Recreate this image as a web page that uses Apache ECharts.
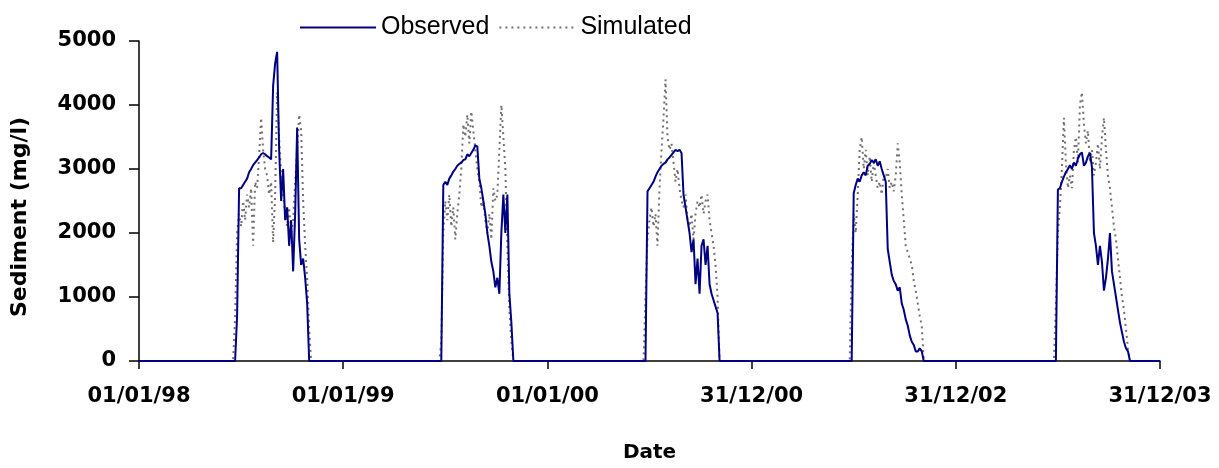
<!DOCTYPE html>
<html>
<head>
<meta charset="utf-8">
<script src="https://cdn.jsdelivr.net/npm/echarts@6/dist/echarts.min.js"></script>
<style>
html,body{margin:0;padding:0;background:#fff;}
#chart{width:1219px;height:468px;}
</style>
</head>
<body>
<div id="chart"></div>
<script>
// Tick labels on the date axis (each tick interval = 102 samples)
const tickLabels = ['01/01/98', '01/01/99', '01/01/00', '31/12/00', '31/12/02', '31/12/03'];
const pointsPerTick = 102;
const yTicks = [0, 1000, 2000, 3000, 4000, 5000];

// Observed sediment (mg/l), one value per sample
const observed = [
// 01/01/98 - 01/01/99
0,0,0,0,0,0,0,0,0,0,
0,0,0,0,0,0,0,0,0,0,
0,0,0,0,0,0,0,0,0,0,
0,0,0,0,0,0,0,0,0,0,
0,0,0,0,0,0,0,0,0,
700,2700,2700,2750,2800,2850,2950,3000,3060,3100,
3140,3180,3230,3250,3230,3200,3180,3150,4300,4650,
4830,3300,2500,3000,2200,2400,1800,2200,1400,2300,
3650,1900,1500,1600,1300,900,
0,0,0,0,0,0,0,0,0,0,
0,0,0,0,0,0,0,
// 01/01/99 - 01/01/00
0,0,0,0,0,0,0,0,0,0,
0,0,0,0,0,0,0,0,0,0,
0,0,0,0,0,0,0,0,0,0,
0,0,0,0,0,0,0,0,0,0,
0,0,0,0,0,0,0,0,0,0,
2750,2800,2750,2850,2900,2960,3000,3050,3080,3100,
3140,3150,3230,3200,3250,3300,3370,3350,2850,2700,
2500,2300,2000,1800,1550,1400,1150,1300,1050,2000,
2600,2000,2600,1050,600,
0,0,0,0,0,0,0,0,0,0,
0,0,0,0,0,0,0,
// 01/01/00 - 31/12/00
0,0,0,0,0,0,0,0,0,0,
0,0,0,0,0,0,0,0,0,0,
0,0,0,0,0,0,0,0,0,0,
0,0,0,0,0,0,0,0,0,0,
0,0,0,0,0,0,0,0,0,0,
2650,2700,2750,2800,2880,2950,3000,3050,3080,3100,
3150,3180,3220,3260,3300,3280,3300,3250,2600,2400,
2200,2000,1700,1900,1200,1600,1050,1800,1900,1500,
1800,1200,1050,950,850,750,
0,0,0,0,0,0,0,0,0,0,
0,0,0,0,0,0,
// 31/12/00 - 31/12/02
0,0,0,0,0,0,0,0,0,0,
0,0,0,0,0,0,0,0,0,0,
0,0,0,0,0,0,0,0,0,0,
0,0,0,0,0,0,0,0,0,0,
0,0,0,0,0,0,0,0,0,0,
0,
2620,2750,2850,2800,2900,2950,2900,3050,3080,3140,
3100,3150,3050,3120,3000,2900,2800,1750,1550,1350,
1250,1200,1100,1150,900,800,650,550,400,300,
250,150,150,200,150,
0,0,0,0,0,0,0,0,0,0,
0,0,0,0,0,0,
// 31/12/02 - 31/12/03
0,0,0,0,0,0,0,0,0,0,
0,0,0,0,0,0,0,0,0,0,
0,0,0,0,0,0,0,0,0,0,
0,0,0,0,0,0,0,0,0,0,
0,0,0,0,0,0,0,0,0,0,
0,
2680,2700,2800,2880,2950,3000,3060,3000,3100,3050,
3160,3230,3260,3050,3100,3200,3250,3030,2000,1800,
1500,1800,1550,1100,1300,1600,2000,1400,1200,1000,
800,600,450,300,200,150,
0,0,0,0,0,0,0,0,0,0,
0,0,0,0,0,
// 31/12/03
0
];

// Simulated sediment (mg/l), one value per sample
const simulated = [
// 01/01/98 - 01/01/99
0,0,0,0,0,0,0,0,0,0,
0,0,0,0,0,0,0,0,0,0,
0,0,0,0,0,0,0,0,0,0,
0,0,0,0,0,0,0,0,0,0,
0,0,0,0,0,0,0,0,
700,2000,2300,2100,2500,2200,2600,2400,2700,1800,
2800,2700,3200,3800,3300,3000,2900,2600,2800,1850,
2600,4200,3500,2900,2600,2300,2100,2400,2000,2200,
2800,3300,3850,3600,2500,1800,1300,500,
0,0,0,0,0,0,0,0,0,0,
0,0,0,0,0,0,
// 01/01/99 - 01/01/00
0,0,0,0,0,0,0,0,0,0,
0,0,0,0,0,0,0,0,0,0,
0,0,0,0,0,0,0,0,0,0,
0,0,0,0,0,0,0,0,0,0,
0,0,0,0,0,0,0,0,0,
300,2000,2500,2200,2600,2100,2400,1900,2300,2600,
3000,3700,3500,3850,3400,3900,3600,3300,3000,2800,
2400,2500,2200,2000,2300,1900,2700,2500,2600,3300,
4000,3500,3000,1800,800,300,
0,0,0,0,0,0,0,0,0,0,
0,0,0,0,0,0,0,
// 01/01/00 - 31/12/00
0,0,0,0,0,0,0,0,0,0,
0,0,0,0,0,0,0,0,0,0,
0,0,0,0,0,0,0,0,0,0,
0,0,0,0,0,0,0,0,0,0,
0,0,0,0,0,0,0,0,0,
1000,1900,2200,2400,2100,2300,1800,2700,3300,3800,
4400,3500,3300,3400,3100,2800,3000,2700,2500,2400,
2600,2200,2100,2300,1900,2300,2500,2400,2600,2300,
2500,2600,2200,2000,1800,1500,1000,
0,0,0,0,0,0,0,0,0,0,
0,0,0,0,0,0,
// 31/12/00 - 31/12/02
0,0,0,0,0,0,0,0,0,0,
0,0,0,0,0,0,0,0,0,0,
0,0,0,0,0,0,0,0,0,0,
0,0,0,0,0,0,0,0,0,0,
0,0,0,0,0,0,0,0,0,0,
1500,2300,2000,2600,3300,3500,3000,3300,2900,3200,
2800,3100,2900,2700,2800,2600,2900,2850,3000,2700,
2800,2650,2900,3400,3100,2600,2200,1800,1700,1600,
1500,1250,1100,900,700,550,
0,0,0,0,0,0,0,0,0,0,
0,0,0,0,0,0,
// 31/12/02 - 31/12/03
0,0,0,0,0,0,0,0,0,0,
0,0,0,0,0,0,0,0,0,0,
0,0,0,0,0,0,0,0,0,0,
0,0,0,0,0,0,0,0,0,0,
0,0,0,0,0,0,0,0,0,0,
900,2000,2400,3000,3800,3100,2700,2900,2700,3300,
3500,3100,4000,4200,3700,3400,3600,3100,3300,2900,
3100,3400,3000,3500,3800,3300,2900,2700,2400,2100,
1900,1600,1300,1000,800,500,200,
0,0,0,0,0,0,0,0,0,0,
0,0,0,0,0,
// 31/12/03
0
];

// Sample index categories
const categories = observed.map((_, i) => String(i));

const chart = echarts.init(document.getElementById('chart'), null, {renderer: 'canvas'});
const axisFont = '"DejaVu Sans", sans-serif';
chart.setOption({
  animation: false,
  backgroundColor: '#ffffff',
  legend: {
    left: 294,
    top: 10,
    itemWidth: 76,
    itemHeight: 14,
    itemGap: 9,
    itemStyle: {opacity: 0, borderWidth: 0},
    textStyle: {fontFamily: '"Liberation Sans", Arial, sans-serif', fontSize: 25, color: '#000'},
    data: ['Observed', 'Simulated']
  },
  grid: {left: 139, right: 59, top: 41, bottom: 99, containLabel: false},
  xAxis: {
    type: 'category',
    data: categories,
    boundaryGap: false,
    name: 'Date',
    nameLocation: 'middle',
    nameGap: 82,
    nameTextStyle: {fontFamily: axisFont, fontWeight: 'bold', fontSize: 20, color: '#000'},
    axisLine: {lineStyle: {color: '#000', width: 1.5}},
    axisTick: {show: true, interval: pointsPerTick - 1, length: 8, inside: false, lineStyle: {color: '#000', width: 1.5}},
    axisLabel: {
      interval: pointsPerTick - 1,
      margin: 25,
      fontFamily: axisFont, fontWeight: 'bold', fontSize: 21, color: '#000',
      formatter: function (v) { return tickLabels[Number(v) / pointsPerTick] || ''; }
    },
    splitLine: {show: false}
  },
  yAxis: {
    type: 'value',
    min: yTicks[0],
    max: yTicks[yTicks.length - 1],
    interval: yTicks[1] - yTicks[0],
    name: 'Sediment (mg/l)',
    nameLocation: 'middle',
    nameGap: 108,
    nameRotate: 90,
    nameTextStyle: {fontFamily: axisFont, fontWeight: 'bold', fontSize: 22, color: '#000', padding: [0, 32, 0, 0]},
    axisLine: {show: true, lineStyle: {color: '#000', width: 1.5}},
    axisTick: {show: true, length: 10, lineStyle: {color: '#000', width: 1.5}},
    axisLabel: {
      margin: 23, fontFamily: axisFont, fontWeight: 'bold', fontSize: 21, color: '#000',
      formatter: function (v) { return String(v); }
    },
    splitLine: {show: false}
  },
  series: [
    {
      name: 'Observed',
      type: 'line',
      data: observed,
      showSymbol: false,
      symbol: 'none',
      z: 3,
      color: '#000080',
      lineStyle: {color: '#000080', width: 2, type: 'solid'}
    },
    {
      name: 'Simulated',
      type: 'line',
      data: simulated,
      showSymbol: false,
      symbol: 'none',
      z: 2,
      color: '#707070',
      lineStyle: {color: '#707070', width: 2, type: [2, 4]}
    }
  ]
});
</script>
</body>
</html>
